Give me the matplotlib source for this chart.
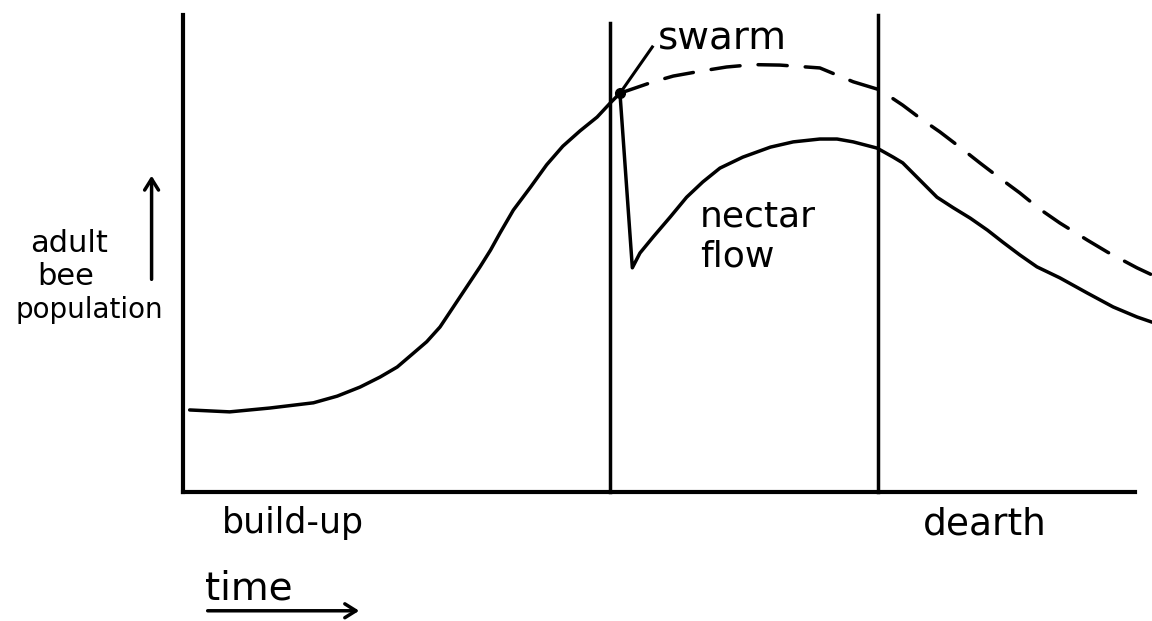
import matplotlib
matplotlib.use("Agg")
import matplotlib.pyplot as plt

plt.rcParams['lines.scale_dashes'] = False
plt.rcParams['font.family'] = ['DejaVu Sans']

# ---- data (time 0-100, population 0-100) ----
buildup_t = [0.7, 4.9, 9.1, 13.7, 16.2, 18.6, 20.7, 22.5, 24.2, 25.6, 27.0, 28.4,
             29.8, 31.2, 32.3, 33.3, 34.7, 36.5, 38.2, 39.9, 41.7, 43.5, 44.9, 45.9]
buildup_p = [17.2, 16.8, 17.6, 18.7, 20.1, 22.0, 24.1, 26.2, 29.1, 31.5, 34.6, 38.8,
             43.0, 47.2, 50.7, 54.3, 59.1, 63.9, 68.6, 72.5, 75.7, 78.6, 81.6, 83.6]

after_t = [45.9, 47.2, 48.0, 49.4, 51.2, 52.9, 54.6, 56.4, 58.8, 61.7, 64.1, 66.9, 68.7,
           70.4, 72.9, 74.6, 75.6, 77.4, 79.2, 80.9, 82.7, 84.5, 86.1, 87.9, 89.7,
           92.1, 95.0, 97.7, 100.2, 101.8]
after_p = [83.6, 47.0, 50.1, 53.5, 57.7, 61.8, 65.0, 67.9, 70.2, 72.3, 73.4, 74.0, 74.0,
           73.4, 72.1, 70.2, 69.0, 65.4, 61.8, 59.6, 57.4, 54.9, 52.4, 49.7, 47.2,
           44.9, 41.7, 38.8, 36.7, 35.6]

noswarm_t = [45.9, 49.4, 51.5, 54.3, 57.1, 59.9, 62.7, 66.9, 70.4, 73.2, 75.6, 77.4,
             79.5, 81.6, 83.7, 85.8, 87.9, 90.0, 92.1, 95.0, 97.1, 100.2, 101.8]
noswarm_p = [83.6, 86.0, 87.2, 88.2, 89.1, 89.6, 89.5, 88.9, 86.0, 84.3, 81.1, 78.4,
             75.5, 72.3, 69.0, 65.8, 62.7, 59.3, 56.4, 52.8, 50.3, 47.0, 45.5]

swarm_t, swarm_p = 45.9, 83.6
phase_bounds = [44.9, 73.0]
phase_tops = [98.3, 100.0]

fig = plt.figure(figsize=(11.52, 6.21), dpi=100)
ax = fig.add_axes([183/1152, 129/621, 952/1152, 477/621])
ax.set_xlim(0, 100)
ax.set_ylim(0, 100)
for s in ['top', 'right']:
    ax.spines[s].set_visible(False)
for s in ['left', 'bottom']:
    ax.spines[s].set_linewidth(3.0)
ax.set_xticks([])
ax.set_yticks([])

lw = 2.5
ax.plot(buildup_t, buildup_p, color='black', lw=lw, clip_on=False,
        solid_capstyle='round', solid_joinstyle='round')
ax.plot(after_t, after_p, color='black', lw=lw, clip_on=False,
        solid_capstyle='round', solid_joinstyle='round')
ln, = ax.plot(noswarm_t, noswarm_p, color='black', lw=lw, clip_on=False)
ln.set_dashes([21, 13])
ln.set_dash_capstyle('round')
ln.set_dash_joinstyle('round')

for xb, top in zip(phase_bounds, phase_tops):
    ax.plot([xb, xb], [0, top], color='black', lw=2.5, clip_on=False)

ax.plot([swarm_t], [swarm_p], 'o', color='black', ms=7, clip_on=False)
ax.plot([swarm_t, 49.3], [swarm_p, 93.3], color='black', lw=2.2, clip_on=False)

ax.text(49.9, 92.7, 'swarm', fontsize=28, ha='left', va='baseline')
ax.text(54.3, 55.6, 'nectar', fontsize=26, ha='left', va='baseline')
ax.text(54.3, 47.2, 'flow', fontsize=26, ha='left', va='baseline')

ax.text(-16.1, 50.3, 'adult', fontsize=22, ha='left', va='baseline')
ax.text(-15.3, 43.4, 'bee', fontsize=22, ha='left', va='baseline')
ax.text(-17.6, 36.5, 'population', fontsize=20, ha='left', va='baseline')
ax.annotate('', xy=(-3.3, 66.9), xytext=(-3.3, 44.0), xycoords='data',
            arrowprops=dict(arrowstyle='->,head_length=0.8,head_width=0.5', lw=2.5, color='black'),
            annotation_clip=False)

ax.text(4.1, -8.6, 'build-up', fontsize=25, ha='left', va='baseline')
ax.text(77.7, -9.0, 'dearth', fontsize=27, ha='left', va='baseline')
ax.text(2.3, -22.6, 'time', fontsize=28, ha='left', va='baseline')
ax.annotate('', xy=(18.8, -24.9), xytext=(2.3, -24.9), xycoords='data',
            arrowprops=dict(arrowstyle='->,head_length=0.8,head_width=0.5', lw=2.5, color='black'),
            annotation_clip=False)

fig.savefig('out.png', dpi=100, facecolor='white')
